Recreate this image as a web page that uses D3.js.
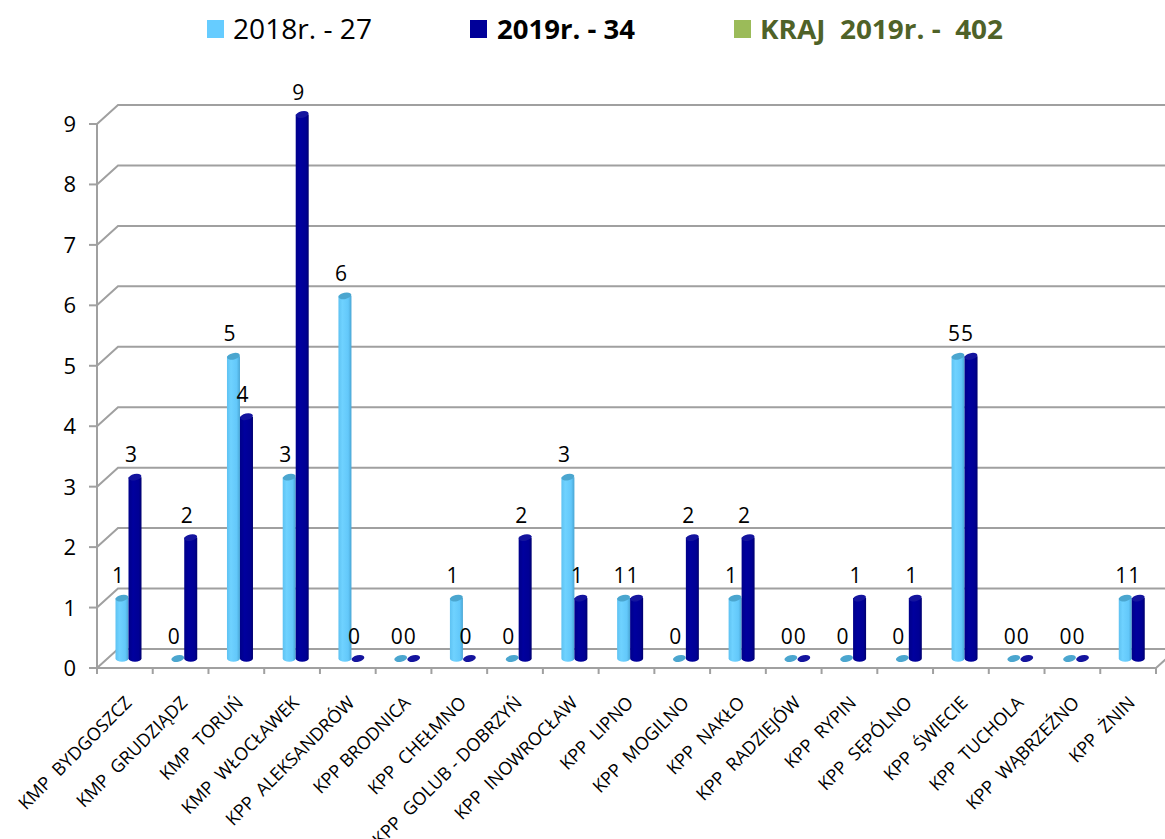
<!DOCTYPE html>
<html>
<head>
<meta charset="utf-8">
<script src="https://cdn.jsdelivr.net/npm/d3@7"></script>
<style>
  body { margin: 0; background: #fff; }
  svg { display: block; font-family: "Open Sans", "DejaVu Sans", sans-serif; }
  .xlab { white-space: pre; }
</style>
</head>
<body>
<div id="chart"></div>
<script>
// Data
var categories = ["KMP  BYDGOSZCZ", "KMP  GRUDZIĄDZ", "KMP  TORUŃ", "KMP  WŁOCŁAWEK",
  "KPP  ALEKSANDRÓW", "KPP BRODNICA", "KPP  CHEŁMNO", "KPP  GOLUB - DOBRZYŃ",
  "KPP  INOWROCŁAW", "KPP  LIPNO", "KPP  MOGILNO", "KPP  NAKŁO", "KPP  RADZIEJÓW",
  "KPP  RYPIN", "KPP  SĘPÓLNO", "KPP  ŚWIECIE", "KPP  TUCHOLA", "KPP  WĄBRZEŹNO", "KPP  ŻNIN"];
var values2018 = [1, 0, 5, 3, 6, 0, 1, 0, 3, 1, 0, 1, 0, 0, 0, 5, 0, 0, 1];
var values2019 = [3, 2, 4, 9, 0, 0, 0, 2, 1, 1, 2, 2, 0, 1, 1, 5, 0, 0, 1];
var yTicks = [0, 1, 2, 3, 4, 5, 6, 7, 8, 9];
var legendLabels = ["2018r. - 27", "2019r. - 34", "KRAJ  2019r. -  402"];

var svgWidth = 1165;
var svgHeight = 839;

// depth offset of the pseudo-3D back wall
var depthX = 21;
var depthY = -19;
var gridColor = "#a0a0a0";

var svg = d3.select("#chart")
  .append("svg")
  .attr("width", svgWidth)
  .attr("height", svgHeight);

var x = d3.scaleBand()
  .domain(categories)
  .range([97, 1156])
  .paddingInner(0)
  .paddingOuter(0);

var y = d3.scaleLinear()
  .domain([0, 9])
  .range([668, 124]);

// gradients for the cylinders
var defs = svg.append("defs");
function addGradient(id, stops) {
  var g = defs.append("linearGradient").attr("id", id)
    .attr("x1", "0%").attr("x2", "100%").attr("y1", "0%").attr("y2", "0%");
  stops.forEach(function(s) {
    g.append("stop").attr("offset", s[0]).attr("stop-color", s[1]);
  });
}
addGradient("lightGrad", [["0%", "#5ec2f2"], ["30%", "#6fd2ff"], ["75%", "#63c8fa"], ["100%", "#4aa6d4"]]);
addGradient("darkGrad", [["0%", "#00008a"], ["35%", "#00009e"], ["80%", "#000094"], ["100%", "#00006e"]]);

// Gridlines: slanted stub + back horizontal line
var grid = svg.append("g");
yTicks.forEach(function(t) {
  grid.append("path")
    .attr("d", `M${x.range()[0]},${y(t)} L${x.range()[0] + depthX},${y(t) + depthY} L${svgWidth + 5},${y(t) + depthY}`)
    .attr("fill", "none")
    .attr("stroke", gridColor)
    .attr("stroke-width", 2);
});

// Left vertical axis line and ticks
svg.append("line")
  .attr("x1", 97).attr("x2", 97)
  .attr("y1", y(0)).attr("y2", y(9))
  .attr("stroke", gridColor).attr("stroke-width", 2);

svg.append("g").selectAll("line")
  .data(yTicks)
  .enter()
  .append("line")
  .attr("x1", 89).attr("x2", 97)
  .attr("y1", d => y(d)).attr("y2", d => y(d))
  .attr("stroke", gridColor).attr("stroke-width", 2);

svg.append("g").selectAll("text")
  .data(yTicks)
  .enter()
  .append("text")
  .attr("x", 76)
  .attr("y", d => y(d) + 8)
  .attr("text-anchor", "end")
  .attr("font-size", "22px")
  .attr("fill", "#000")
  .text(d => d);

// Floor front edge and right slant
svg.append("path")
  .attr("d", `M97,${y(0)} L${x.range()[1]},${y(0)} L${x.range()[1] + depthX},${y(0) + depthY}`)
  .attr("fill", "none")
  .attr("stroke", gridColor)
  .attr("stroke-width", 2);

// x ticks
var xTickPos = categories.map(c => x(c)).concat([x.range()[1]]);
svg.append("g").selectAll("line")
  .data(xTickPos)
  .enter()
  .append("line")
  .attr("x1", d => d).attr("x2", d => d)
  .attr("y1", y(0)).attr("y2", y(0) + 6)
  .attr("stroke", gridColor).attr("stroke-width", 2);

// Cylinders
var barW = 13;
var ry = 3.2;
var midY = depthY / 2;

function drawBar(g, cx, v, bodyFill, topFill) {
  var r = barW / 2;
  var base = y(0) + midY;
  var top = y(v) + midY;
  if (v > 0) {
    g.append("path")
      .attr("d", `M${cx - r},${top} L${cx - r},${base} A${r},${ry} 0 0 0 ${cx + r},${base} L${cx + r},${top} Z`)
      .attr("fill", bodyFill);
  }
  g.append("ellipse")
    .attr("cx", cx).attr("cy", top)
    .attr("rx", r).attr("ry", ry)
    .attr("transform", `rotate(-12, ${cx}, ${top})`)
    .attr("fill", topFill);
}

var bars = svg.append("g");
categories.forEach(function(c, i) {
  var lx = x(c) + 25;
  var dx = lx + 13;
  drawBar(bars, lx, values2018[i], "url(#lightGrad)", "#4ba6cf");
  drawBar(bars, dx, values2019[i], "url(#darkGrad)", "#14149e");
});

// Value labels
var labels = svg.append("g")
  .attr("font-size", "21px")
  .attr("text-anchor", "middle")
  .attr("fill", "#000");
categories.forEach(function(c, i) {
  var lx = x(c) + 25;
  var dx = lx + 13;
  labels.append("text")
    .attr("x", lx - 4)
    .attr("y", y(values2018[i]) + midY - 15)
    .text(values2018[i]);
  labels.append("text")
    .attr("x", dx - 4)
    .attr("y", y(values2019[i]) + midY - 15)
    .text(values2019[i]);
});

// Category labels, rotated
svg.append("g").selectAll("text")
  .data(categories)
  .enter()
  .append("text")
  .attr("class", "xlab")
  .attr("transform", d => `translate(${x(d) + x.bandwidth() / 2 + 8}, ${y(0) + 36}) rotate(-45)`)
  .attr("text-anchor", "end")
  .attr("font-size", "18px")
  .attr("fill", "#000")
  .text(d => d);

// Legend
var legend = svg.append("g");
var legendItems = [
  { label: legendLabels[0], color: "#66ccff", text: "#000", weight: "normal", sx: 207, tx: 233, w: 139 },
  { label: legendLabels[1], color: "#000099", text: "#000", weight: "bold", sx: 470, tx: 497, w: 138 },
  { label: legendLabels[2], color: "#9bbb59", text: "#4f6228", weight: "bold", sx: 734, tx: 760, w: 243 }
];
legendItems.forEach(function(d) {
  legend.append("rect")
    .attr("x", d.sx).attr("y", 20)
    .attr("width", 17).attr("height", 18)
    .attr("fill", d.color);
  legend.append("text")
    .attr("x", d.tx).attr("y", 39)
    .attr("font-size", "27px")
    .attr("font-weight", d.weight)
    .attr("fill", d.text)
    .attr("textLength", d.w)
    .attr("lengthAdjust", "spacingAndGlyphs")
    .style("white-space", "pre")
    .text(d.label);
});
</script>
</body>
</html>
